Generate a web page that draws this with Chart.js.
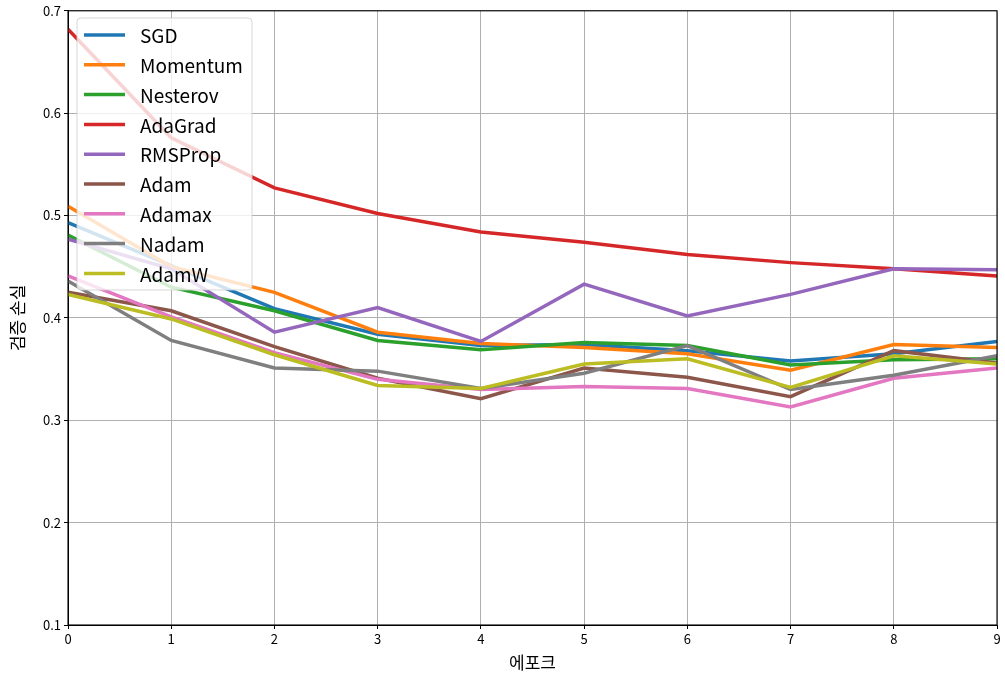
<!DOCTYPE html>
<html><head><meta charset="utf-8">
<script src="https://cdn.jsdelivr.net/npm/chart.js@4.4.0/dist/chart.umd.min.js"></script>
<style>html,body{margin:0;padding:0;background:#fff;}canvas{display:block;}</style>
</head><body>
<canvas id="c" width="1005" height="680"></canvas>
<script>
const epochs = [0,1,2,3,4,5,6,7,8,9];
const seriesNames = ['SGD','Momentum','Nesterov','AdaGrad','RMSProp','Adam','Adamax','Nadam','AdamW'];
const seriesColors = ['#1f77b4','#ff7f0e','#2ca02c','#d62728','#9467bd','#8c564b','#e377c2','#7f7f7f','#bcbd22'];
const sgd      = [0.493,0.451,0.409,0.384,0.373,0.374,0.368,0.358,0.365,0.377];
const momentum = [0.509,0.450,0.425,0.386,0.375,0.371,0.365,0.349,0.374,0.371];
const nesterov = [0.481,0.430,0.407,0.378,0.369,0.376,0.373,0.354,0.359,0.360];
const adagrad  = [0.682,0.576,0.527,0.502,0.484,0.474,0.462,0.454,0.448,0.441];
const rmsprop  = [0.477,0.448,0.386,0.410,0.377,0.433,0.402,0.423,0.448,0.447];
const adam     = [0.425,0.407,0.372,0.341,0.321,0.351,0.342,0.323,0.368,0.356];
const adamax   = [0.441,0.401,0.366,0.340,0.330,0.333,0.331,0.313,0.341,0.351];
const nadam    = [0.436,0.378,0.351,0.348,0.331,0.346,0.373,0.330,0.344,0.363];
const adamw    = [0.423,0.399,0.364,0.334,0.331,0.355,0.360,0.332,0.363,0.355];
const allSeries = [sgd,momentum,nesterov,adagrad,rmsprop,adam,adamax,nadam,adamw];
const yTicks = [0.1,0.2,0.3,0.4,0.5,0.6,0.7];
const xLabel = '에포크';
const yLabel = '검증 손실';

const FONT = '"Noto Sans CJK KR", "Noto Sans", sans-serif';

const frameAndLegend = {
  id: 'frameAndLegend',
  afterDraw(chart) {
    const ctx = chart.ctx, a = chart.chartArea;
    ctx.save();
    ctx.strokeStyle = '#000';
    ctx.lineWidth = 1.1;
    ctx.strokeRect(a.left, a.top, a.right - a.left, a.bottom - a.top);
    // legend
    const bx = 77, by = 18, bw = 175, bh = 272, r = 4;
    ctx.beginPath();
    ctx.moveTo(bx + r, by);
    ctx.lineTo(bx + bw - r, by); ctx.quadraticCurveTo(bx + bw, by, bx + bw, by + r);
    ctx.lineTo(bx + bw, by + bh - r); ctx.quadraticCurveTo(bx + bw, by + bh, bx + bw - r, by + bh);
    ctx.lineTo(bx + r, by + bh); ctx.quadraticCurveTo(bx, by + bh, bx, by + bh - r);
    ctx.lineTo(bx, by + r); ctx.quadraticCurveTo(bx, by, bx + r, by);
    ctx.closePath();
    ctx.fillStyle = 'rgba(255,255,255,0.8)';
    ctx.fill();
    ctx.strokeStyle = 'rgba(204,204,204,0.8)';
    ctx.lineWidth = 1;
    ctx.stroke();
    ctx.font = '19px ' + FONT;
    ctx.textBaseline = 'middle';
    ctx.textAlign = 'left';
    seriesNames.forEach((n, i) => {
      const y = 35 + i * 29.8;
      ctx.strokeStyle = seriesColors[i];
      ctx.lineWidth = 3.5;
      ctx.beginPath(); ctx.moveTo(84, y); ctx.lineTo(125, y); ctx.stroke();
      ctx.fillStyle = '#000';
      ctx.fillText(n, 140, y + 1);
    });
    ctx.restore();
  }
};

new Chart(document.getElementById('c'), {
  type: 'line',
  data: {
    labels: epochs,
    datasets: seriesNames.map((n, i) => ({
      label: n,
      data: allSeries[i].map((v, j) => ({x: epochs[j], y: v})),
      borderColor: seriesColors[i],
      backgroundColor: seriesColors[i],
      borderWidth: 3.5,
      pointRadius: 0,
      tension: 0,
      fill: false,
      order: seriesNames.length - i
    }))
  },
  options: {
    responsive: false,
    animation: false,
    devicePixelRatio: 1,
    layout: { padding: { left: 0, right: 8, top: 9, bottom: 0 } },
    plugins: { legend: { display: false }, tooltip: { enabled: false } },
    scales: {
      x: {
        type: 'linear', min: 0, max: 9,
        afterFit(s) { s.height = 55; },
        afterBuildTicks(s) { s.ticks = epochs.map(v => ({value: v})); },
        grid: { color: '#b0b0b0', lineWidth: 1, tickColor: '#000', tickLength: 4, drawTicks: true },
        border: { color: '#000', width: 1 },
        ticks: { color: '#000', font: { family: FONT, size: 13 }, padding: 2, maxRotation: 0 },
        title: { display: true, text: xLabel, color: '#000', font: { family: FONT, size: 17 }, padding: { top: 2, bottom: 7 } }
      },
      y: {
        type: 'linear', min: 0.1, max: 0.7,
        afterFit(s) { s.width = 68; },
        afterBuildTicks(s) { s.ticks = yTicks.map(v => ({value: v})); },
        grid: { color: '#b0b0b0', lineWidth: 1, tickColor: '#000', tickLength: 4 },
        border: { color: '#000', width: 1 },
        ticks: { color: '#000', font: { family: FONT, size: 13 }, padding: 3, callback: v => v.toFixed(1) },
        title: { display: true, text: yLabel, color: '#000', font: { family: FONT, size: 17 }, padding: { top: 7, bottom: 4 } }
      }
    }
  },
  plugins: [frameAndLegend]
});
</script>
</body></html>
